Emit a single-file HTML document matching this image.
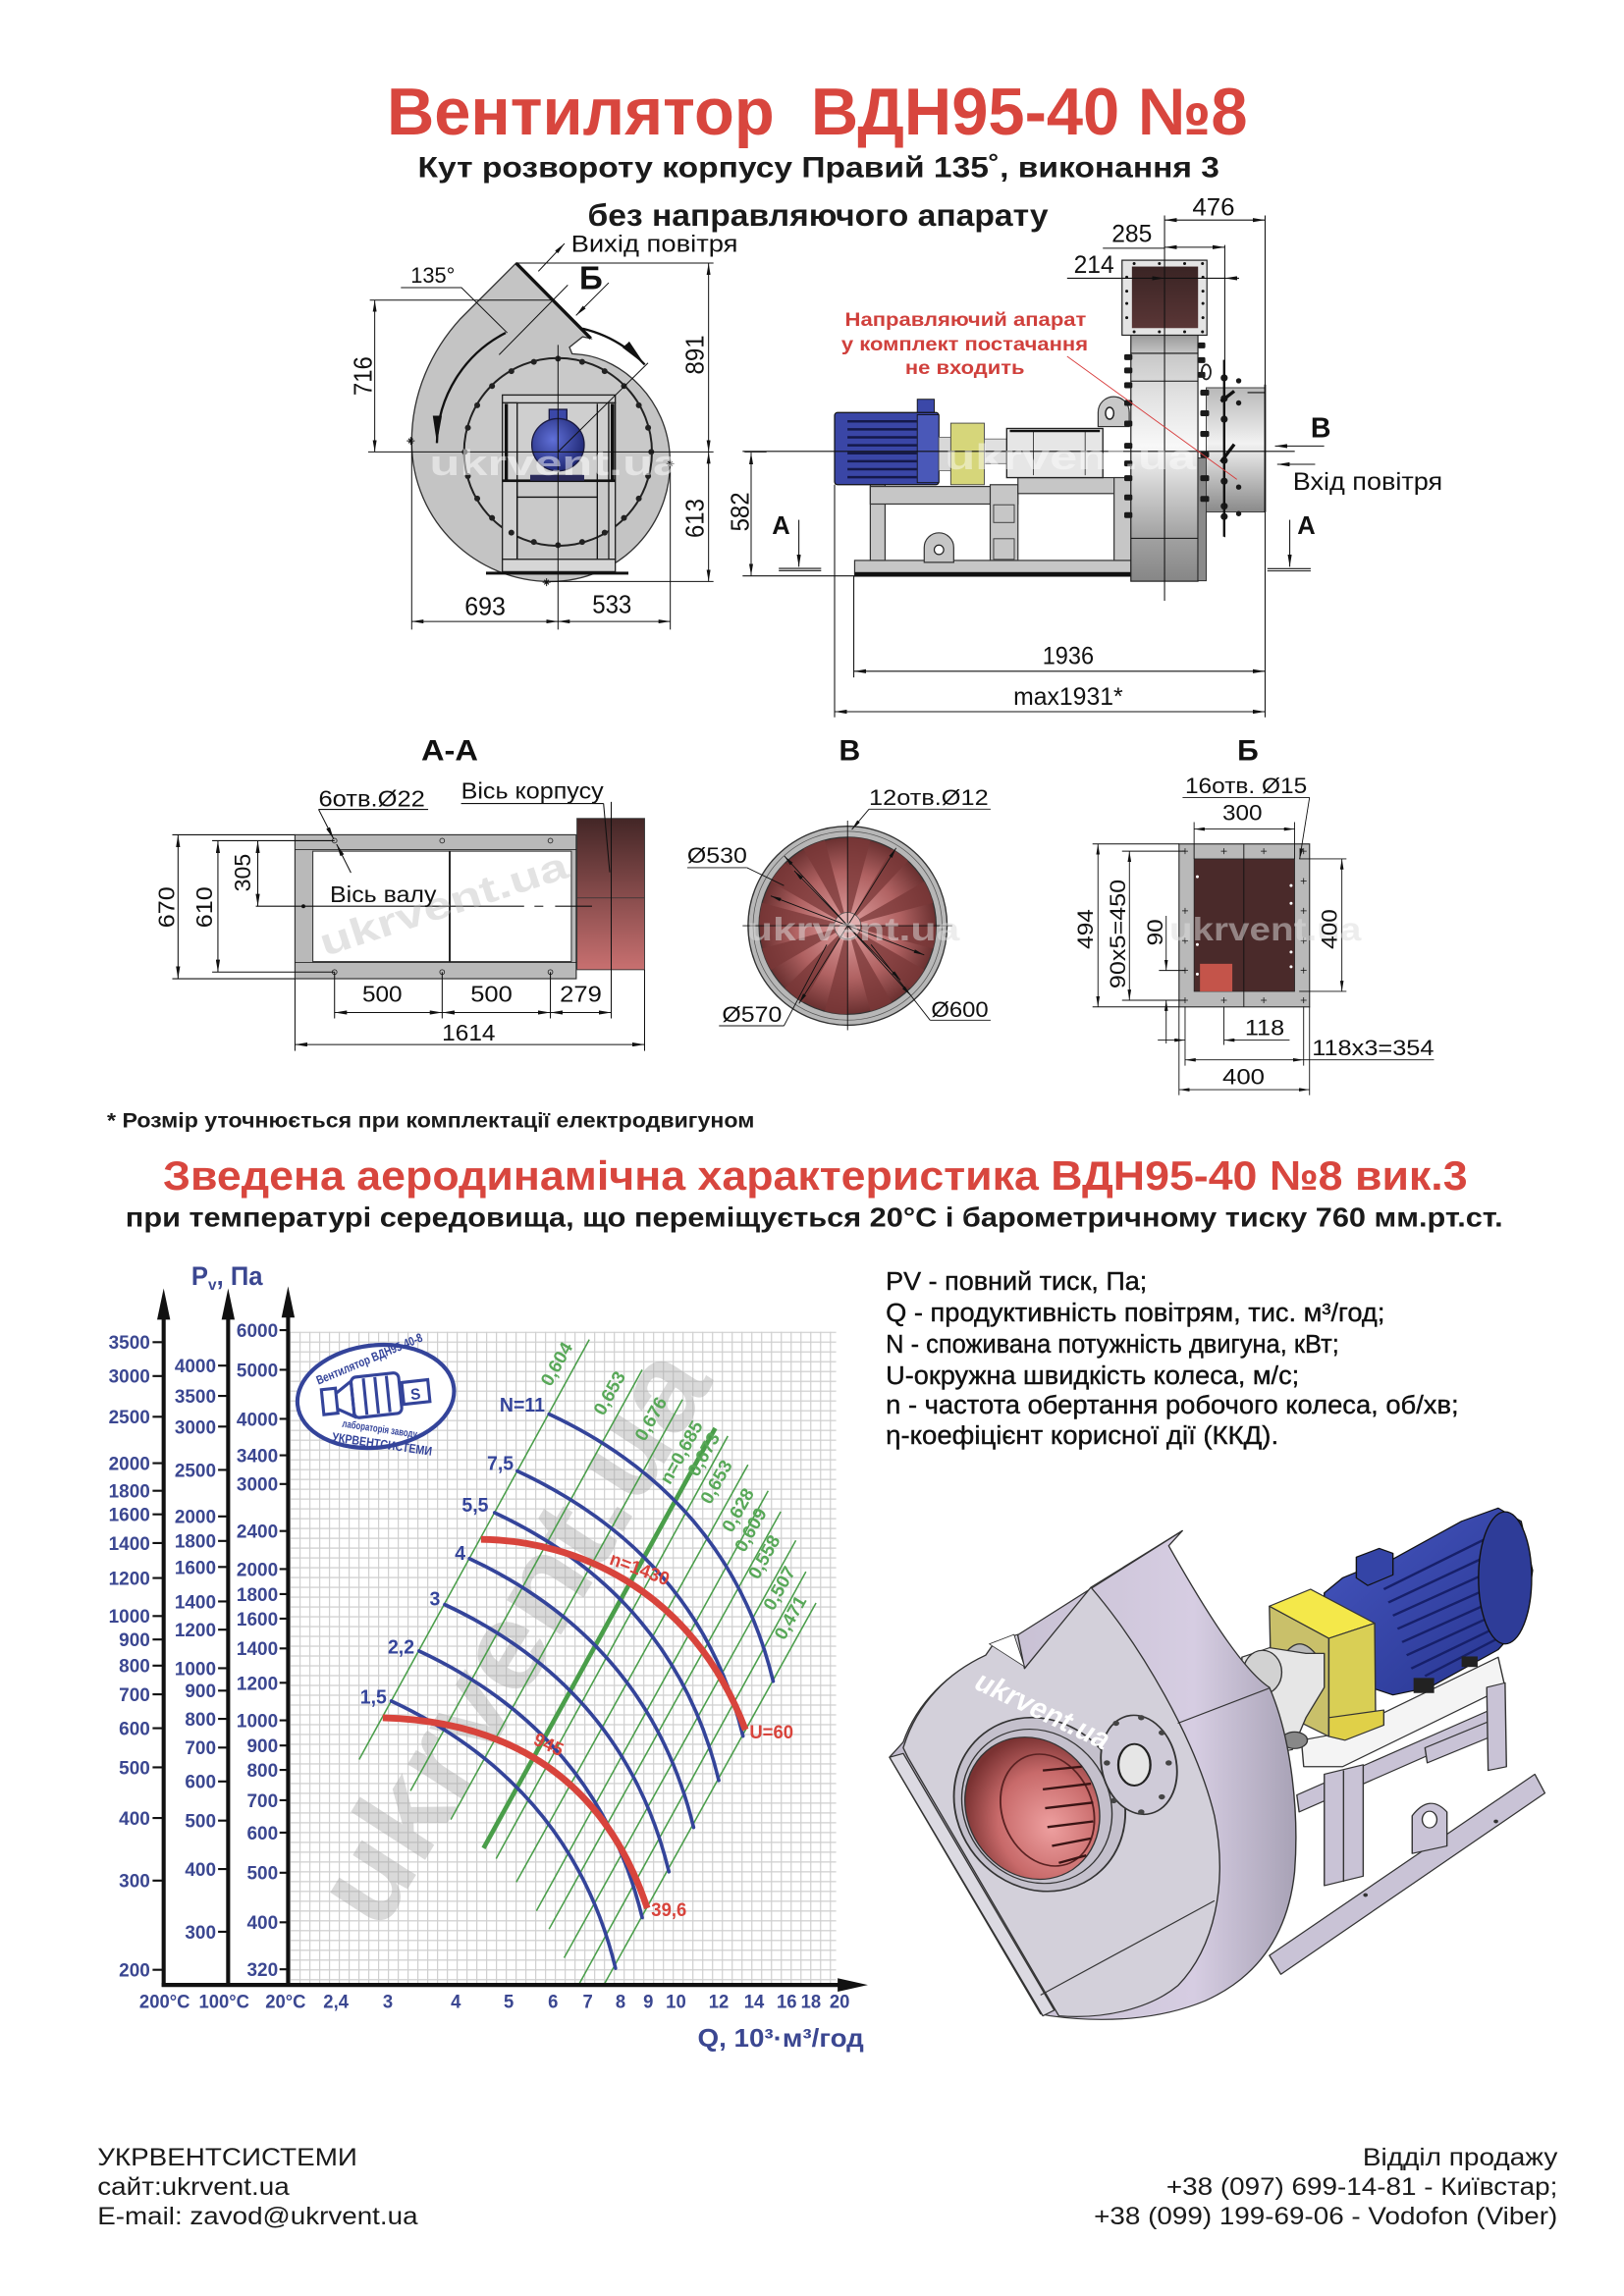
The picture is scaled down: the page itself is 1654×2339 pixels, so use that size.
<!DOCTYPE html>
<html><head><meta charset="utf-8"><title>Вентилятор ВДН95-40 №8</title>
<style>
html,body{margin:0;padding:0;background:#fff;width:1654px;height:2339px;overflow:hidden}
svg{display:block}
text{font-family:"Liberation Sans","DejaVu Sans",sans-serif}
</style></head><body>
<svg xmlns="http://www.w3.org/2000/svg" width="1654" height="2339" viewBox="0 0 1100 1555.6" preserveAspectRatio="none">
<defs>
<marker id="ar" viewBox="0 0 12 4" refX="12" refY="2" markerWidth="12" markerHeight="4" orient="auto-start-reverse" markerUnits="strokeWidth"><path d="M0,0L12,2L0,4Z" fill="#111"/></marker>
<linearGradient id="gOut" x1="0" y1="0" x2="0" y2="1"><stop offset="0" stop-color="#3a2424"/><stop offset="1" stop-color="#5a3636"/></linearGradient>
<linearGradient id="gBody" x1="0" y1="0" x2="0" y2="1"><stop offset="0" stop-color="#9a9a9a"/><stop offset="0.08" stop-color="#c8c8c8"/><stop offset="0.25" stop-color="#e2e2e2"/><stop offset="0.45" stop-color="#f8f8f8"/><stop offset="0.62" stop-color="#cfcfcf"/><stop offset="0.82" stop-color="#a2a2a2"/><stop offset="1" stop-color="#868686"/></linearGradient>
<linearGradient id="gPipe" x1="0" y1="0" x2="0" y2="1"><stop offset="0" stop-color="#b8b8b8"/><stop offset="0.45" stop-color="#f2f2f2"/><stop offset="1" stop-color="#8a8a8a"/></linearGradient>
<linearGradient id="gRed" x1="0" y1="0" x2="0" y2="1"><stop offset="0" stop-color="#432626"/><stop offset="1" stop-color="#c87070"/></linearGradient>
<radialGradient id="gMot" cx="0.4" cy="0.4" r="0.65"><stop offset="0" stop-color="#6070d8"/><stop offset="1" stop-color="#1e2672"/></radialGradient>
<radialGradient id="gInB" cx="0.5" cy="0.5" r="0.5"><stop offset="0" stop-color="#e0a0a0"/><stop offset="0.6" stop-color="#b06262"/><stop offset="1" stop-color="#6a3030"/></radialGradient>
<radialGradient id="gInlet" cx="0.6" cy="0.65" r="0.65"><stop offset="0" stop-color="#eea0a0"/><stop offset="0.6" stop-color="#c86a6a"/><stop offset="1" stop-color="#7a3232"/></radialGradient>
<linearGradient id="gBand" x1="0" y1="0" x2="1" y2="0"><stop offset="0" stop-color="#bfb9ca"/><stop offset="0.75" stop-color="#d6cde2"/><stop offset="1" stop-color="#a8a2b6"/></linearGradient>
<linearGradient id="gMotor" x1="0" y1="0" x2="1" y2="1"><stop offset="0" stop-color="#4656c0"/><stop offset="1" stop-color="#26348e"/></linearGradient>
<pattern id="grid" patternUnits="userSpaceOnUse" x="380" y="145" width="19.5" height="18.8"><path d="M1,0V18.8M0,1H19.5" stroke="#cfcfcf" stroke-width="2.6" fill="none"/></pattern>
</defs>
<rect width="1100" height="1555.6" fill="#fff"/>

<!-- HEADER -->
<text x="262" y="91" font-size="45" font-weight="bold" fill="#d8463e" textLength="583" lengthAdjust="spacingAndGlyphs" style="white-space:pre">Вентилятор  ВДН95-40 №8</text>
<text x="283" y="120" font-size="20" font-weight="bold" fill="#1a1a1a" textLength="543" lengthAdjust="spacingAndGlyphs">Кут розвороту корпусу Правий 135˚, виконання 3</text>
<text x="398" y="153" font-size="21" font-weight="bold" fill="#1a1a1a" textLength="312" lengthAdjust="spacingAndGlyphs">без направляючого апарату</text>

<!-- FRONT VIEW -->
<g transform="translate(239.4,155) scale(0.2217)" fill="none" stroke="#111">
<path d="M497,105 L725,335 L700,330 L660,362 L668,382 L700,385 C820,400 960,520 967,700 C975,900 820,1078 600,1078 C380,1078 178,900 178,650 C178,500 240,370 327,275 Z" fill="#c4c4c4" stroke="#333" stroke-width="4"/>
<circle cx="625" cy="682" r="287" fill="#c9c9c9" stroke="#222" stroke-width="6"/>
<rect x="500" y="532" width="280" height="238" fill="#cfcfcf" stroke="#222" stroke-width="4"/>
<rect x="455" y="508" width="345" height="24" fill="#d0d0d0" stroke="#222" stroke-width="4"/>
<rect x="455" y="532" width="45" height="478" fill="#d0d0d0" stroke="#222" stroke-width="4"/>
<rect x="780" y="532" width="20" height="478" fill="#d0d0d0" stroke="#222" stroke-width="4"/>
<rect x="462" y="535" width="10" height="235" fill="#111" stroke="none"/>
<rect x="786" y="535" width="11" height="235" fill="#111" stroke="none"/>
<line x1="745" y1="535" x2="745" y2="1010" stroke-width="4"/>
<line x1="500" y1="770" x2="500" y2="1010" stroke-width="4"/>
<rect x="455" y="766" width="345" height="8" fill="#111" stroke="none"/>
<line x1="500" y1="820" x2="745" y2="820" stroke-width="4"/>
<rect x="455" y="1010" width="345" height="38" fill="#d6d6d6" stroke="#222" stroke-width="4"/>
<rect x="405" y="1048" width="435" height="9" fill="#111" stroke="none"/>
<rect x="598" y="552" width="54" height="50" fill="#3b48a8" stroke="#1a1a40" stroke-width="4"/>
<circle cx="625" cy="660" r="80" fill="url(#gMot)" stroke="#1a1a40" stroke-width="4"/>
<rect x="540" y="752" width="165" height="18" fill="#2a2a5a" stroke="none"/>
<g fill="#222" stroke="none">
<circle cx="910" cy="682" r="9"/><circle cx="900.3" cy="755.8" r="9"/><circle cx="871.8" cy="824.5" r="9"/><circle cx="826.5" cy="883.5" r="9"/><circle cx="767.5" cy="928.8" r="9"/><circle cx="698.8" cy="957.3" r="9"/><circle cx="625" cy="967" r="9"/><circle cx="551.2" cy="957.3" r="9"/><circle cx="482.5" cy="928.8" r="9"/><circle cx="423.5" cy="883.5" r="9"/><circle cx="378.2" cy="824.5" r="9"/><circle cx="349.7" cy="755.8" r="9"/><circle cx="340" cy="682" r="9"/><circle cx="349.7" cy="608.2" r="9"/><circle cx="378.2" cy="539.5" r="9"/><circle cx="423.5" cy="480.5" r="9"/><circle cx="482.5" cy="435.2" r="9"/><circle cx="551.2" cy="406.7" r="9"/><circle cx="625" cy="397" r="9"/><circle cx="698.8" cy="406.7" r="9"/><circle cx="767.5" cy="435.2" r="9"/><circle cx="826.5" cy="480.5" r="9"/><circle cx="871.8" cy="539.5" r="9"/><circle cx="900.3" cy="608.2" r="9"/>
</g>
<line x1="497" y1="105" x2="725" y2="335" stroke-width="10"/>
<!-- arcs -->
<path d="M465,318 A385,385 0 0 0 255,655" stroke-width="7" marker-end="url(#ar)"/>
<path d="M700,305 A382,382 0 0 1 890,415" stroke-width="7" marker-end="url(#ar)"/>
<!-- axes & dims -->
<g stroke-width="3">
<line x1="625" y1="355" x2="625" y2="1225"/>
<line x1="45" y1="682" x2="1100" y2="682"/>
<line x1="1195" y1="682" x2="1262" y2="682"/>
<line x1="497" y1="105" x2="1100" y2="105"/>
<line x1="50" y1="218" x2="612" y2="218"/>
<line x1="600" y1="1078" x2="1100" y2="1078"/>
<line x1="178" y1="640" x2="178" y2="1225"/>
<line x1="968" y1="705" x2="968" y2="1225"/>
<line x1="445" y1="385" x2="655" y2="172"/>
<line x1="625" y1="682" x2="900" y2="410"/>
<polyline points="145,180 330,180 470,318"/>
<line x1="65" y1="218" x2="65" y2="682" marker-start="url(#ar)" marker-end="url(#ar)"/>
<line x1="1085" y1="105" x2="1085" y2="682" marker-start="url(#ar)" marker-end="url(#ar)"/>
<line x1="1085" y1="682" x2="1085" y2="1078" marker-start="url(#ar)" marker-end="url(#ar)"/>
<line x1="1215" y1="684" x2="1215" y2="1060" marker-start="url(#ar)" marker-end="url(#ar)"/>
<line x1="178" y1="1200" x2="625" y2="1200" marker-start="url(#ar)" marker-end="url(#ar)"/>
<line x1="625" y1="1200" x2="968" y2="1200" marker-start="url(#ar)" marker-end="url(#ar)"/>
<line x1="565" y1="130" x2="645" y2="45" marker-end="url(#ar)"/>
<line x1="780" y1="165" x2="680" y2="265" marker-end="url(#ar)"/>
</g>
<g stroke-width="3"><path d="M163,648h24M175,636v24M168,641l14,14M182,641l-14,14"/><path d="M956,718h24M968,706v24M961,711l14,14M975,711l-14,14"/><path d="M578,1080h24M590,1068v24M583,1073l14,14M597,1073l-14,14"/></g>
</g>
<text x="291" y="322" font-size="24" font-weight="bold" fill="#fff" opacity="0.5" textLength="170" lengthAdjust="spacingAndGlyphs">ukrvent.ua</text>
<text x="386.8" y="170.5" font-size="16" fill="#111" textLength="113" lengthAdjust="spacingAndGlyphs">Вихід повітря</text>
<text x="278.2" y="191.6" font-size="15" fill="#111" textLength="30" lengthAdjust="spacingAndGlyphs">135°</text>
<text x="392.4" y="196" font-size="22" font-weight="bold" fill="#111">Б</text>
<g font-size="17" fill="#111" text-anchor="middle">
<text transform="translate(251.6,254.8) rotate(-90)" textLength="26.6" lengthAdjust="spacingAndGlyphs">716</text>
<text transform="translate(476.6,240.4) rotate(-90)" textLength="26.6" lengthAdjust="spacingAndGlyphs">891</text>
<text transform="translate(476.6,351.2) rotate(-90)" textLength="26.6" lengthAdjust="spacingAndGlyphs">613</text>
<text transform="translate(507.2,346.8) rotate(-90)" textLength="26.6" lengthAdjust="spacingAndGlyphs">582</text>
<text x="328.6" y="416.6" textLength="27.7" lengthAdjust="spacingAndGlyphs">693</text>
<text x="414.5" y="415.5" textLength="26.6" lengthAdjust="spacingAndGlyphs">533</text>
</g>

<!-- SIDE VIEW -->
<g stroke="#111" fill="none">
<!-- frame -->
<rect x="578.9" y="379.7" width="187.2" height="10.7" fill="#c6c6c6" stroke="#333" stroke-width="0.8"/>
<rect x="578.9" y="387.6" width="187.2" height="2.8" fill="#111" stroke="none"/>
<rect x="589.5" y="328.4" width="10" height="51.3" fill="#c6c6c6" stroke="#333" stroke-width="0.8"/>
<rect x="589.5" y="329.6" width="100" height="11.9" fill="#c6c6c6" stroke="#333" stroke-width="0.8"/>
<rect x="670.7" y="328.4" width="18.8" height="51.3" fill="#c6c6c6" stroke="#333" stroke-width="0.8"/>
<rect x="673" y="342" width="14" height="12" fill="#c6c6c6" stroke="#333" stroke-width="0.6"/>
<rect x="673" y="365" width="14" height="14" fill="#c6c6c6" stroke="#333" stroke-width="0.6"/>
<rect x="689.5" y="323.6" width="71" height="10.8" fill="#c6c6c6" stroke="#333" stroke-width="0.8"/>
<rect x="754.6" y="323.6" width="11.5" height="56.1" fill="#c6c6c6" stroke="#333" stroke-width="0.8"/>
<path d="M626,381 V371 A10,10 0 0 1 646,371 V381 Z" fill="#c6c6c6" stroke="#333" stroke-width="0.8"/>
<circle cx="636" cy="372.5" r="3.2" fill="#fff" stroke="#222" stroke-width="0.8"/>
<!-- motor -->
<rect x="621.3" y="270.5" width="11.5" height="10" fill="#3b48a8" stroke="#111" stroke-width="0.6"/>
<rect x="565.3" y="279.5" width="70.6" height="48.9" rx="2" fill="#3a46a6" stroke="#111" stroke-width="0.8"/>
<g stroke="#15194a" stroke-width="1.7"><line x1="574" y1="285.5" x2="621" y2="285.5"/><line x1="574" y1="290.9" x2="621" y2="290.9"/><line x1="574" y1="296.3" x2="621" y2="296.3"/><line x1="574" y1="301.7" x2="621" y2="301.7"/><line x1="574" y1="307.1" x2="621" y2="307.1"/><line x1="574" y1="312.5" x2="621" y2="312.5"/><line x1="574" y1="317.9" x2="621" y2="317.9"/><line x1="574" y1="323.3" x2="621" y2="323.3"/></g>
<rect x="621.3" y="281" width="14.6" height="46" fill="#4a58b8" stroke="#111" stroke-width="0.6"/>
<rect x="635.9" y="296.2" width="9.6" height="22.7" fill="#d8d8d8" stroke="#555" stroke-width="0.5"/>
<rect x="644" y="286.7" width="22.7" height="41.7" fill="#d6d67a" stroke="#444" stroke-width="0.6"/>
<rect x="666.7" y="297.4" width="15.2" height="16.7" fill="#e0e0e0" stroke="#555" stroke-width="0.5"/>
<rect x="681.9" y="290.3" width="65.1" height="33.3" fill="#e6e6e6" stroke="#222" stroke-width="0.9"/>
<line x1="684" y1="292" x2="745" y2="292" stroke-width="1.6"/>
<line x1="700" y1="292" x2="700" y2="322" stroke-width="0.5"/>
<line x1="735" y1="292" x2="735" y2="322" stroke-width="0.5"/>
<path d="M743.8,289 V279.3 A10.5,10.5 0 0 1 764.9,279.3 V289 Z" fill="#c8c8c8" stroke="#333" stroke-width="0.8"/>
<ellipse cx="751.6" cy="280" rx="2.8" ry="4" fill="#fff" stroke="#222" stroke-width="1"/>
<!-- casing -->
<rect x="766" y="227" width="45.4" height="166.8" fill="url(#gBody)" stroke="#222" stroke-width="0.8"/>
<line x1="766" y1="239.4" x2="811.4" y2="239.4" stroke-width="0.7"/>
<line x1="766" y1="258.2" x2="811.4" y2="258.2" stroke-width="0.7"/>
<line x1="766" y1="364.7" x2="811.4" y2="364.7" stroke-width="0.7"/>
<rect x="811.4" y="310.3" width="5.6" height="83.2" fill="#8a8a8a" stroke="#222" stroke-width="0.6"/>
<rect x="817" y="262.7" width="39.9" height="84.2" fill="url(#gPipe)" stroke="#333" stroke-width="0.6"/>
<line x1="856.9" y1="260.5" x2="856.9" y2="347" stroke-width="1.2"/>
<line x1="845" y1="266" x2="856.9" y2="266" stroke-width="0.8"/>
<line x1="829.2" y1="243.8" x2="829.2" y2="363.6" stroke-width="1.6"/>
<g fill="#1a1a1a" stroke="none">
<rect x="761.5" y="240" width="5.5" height="4" rx="1"/><rect x="761.5" y="249" width="5.5" height="4" rx="1"/><rect x="761.5" y="259" width="5.5" height="4" rx="1"/><rect x="761.5" y="271" width="5.5" height="4" rx="1"/><rect x="761.5" y="285" width="5.5" height="4" rx="1"/><rect x="761.5" y="300" width="5.5" height="4" rx="1"/><rect x="761.5" y="312" width="5.5" height="4" rx="1"/><rect x="761.5" y="322" width="5.5" height="4" rx="1"/><rect x="761.5" y="335" width="5.5" height="4" rx="1"/><rect x="761.5" y="347" width="5.5" height="4" rx="1"/>
<rect x="811.4" y="232" width="5" height="4" rx="1"/><rect x="811.4" y="242" width="5" height="4" rx="1"/><rect x="811.4" y="252" width="5" height="4" rx="1"/><rect x="813" y="264" width="6" height="4" rx="1"/><rect x="813" y="278" width="6" height="4" rx="1"/><rect x="813" y="292" width="6" height="4" rx="1"/><rect x="813" y="306" width="6" height="4" rx="1"/><rect x="813" y="322" width="6" height="4" rx="1"/><rect x="813" y="336" width="6" height="4" rx="1"/>
<circle cx="829.2" cy="256" r="2.4"/><circle cx="829.2" cy="270" r="2.4"/><circle cx="829.2" cy="284" r="2.4"/><circle cx="829.2" cy="312" r="2.4"/><circle cx="829.2" cy="326" r="2.4"/><circle cx="829.2" cy="343" r="2.4"/><circle cx="829.2" cy="350" r="2.4"/>
<circle cx="839" cy="258" r="1.8"/><circle cx="839" cy="273" r="1.8"/><circle cx="839" cy="330" r="1.8"/><circle cx="839" cy="348" r="1.8"/>
</g>
<line x1="827" y1="313" x2="836" y2="301" stroke-width="2.2"/>
<line x1="827" y1="272" x2="836" y2="265" stroke-width="2.2"/>
<ellipse cx="817" cy="252" rx="3" ry="5" fill="none" stroke="#222" stroke-width="1.2"/>
<!-- outlet flange -->
<rect x="760" y="176.3" width="57.5" height="50.8" fill="#e4e4e4" stroke="#222" stroke-width="0.8"/>
<rect x="766.7" y="180.6" width="44.8" height="41.7" fill="url(#gOut)" stroke="none"/>
<g fill="#111" stroke="none"><circle cx="768.2" cy="178.6" r="1"/><circle cx="785.3" cy="178.6" r="1"/><circle cx="802.4" cy="178.6" r="1"/><circle cx="814.5" cy="178.6" r="1"/><circle cx="768.2" cy="224.8" r="1"/><circle cx="785.3" cy="224.8" r="1"/><circle cx="802.4" cy="224.8" r="1"/><circle cx="814.5" cy="224.8" r="1"/><circle cx="763.2" cy="187.8" r="1"/><circle cx="763.2" cy="197.3" r="1"/><circle cx="763.2" cy="205.6" r="1"/><circle cx="763.2" cy="215.2" r="1"/><circle cx="814.8" cy="187.8" r="1"/><circle cx="814.8" cy="197.3" r="1"/><circle cx="814.8" cy="205.6" r="1"/><circle cx="814.8" cy="215.2" r="1"/></g>
<!-- axes and dims -->
<g stroke-width="0.7">
<line x1="788.8" y1="146" x2="788.8" y2="407"/>
<line x1="503" y1="305.8" x2="877" y2="305.8"/>
<line x1="503" y1="390.2" x2="579" y2="390.2"/>
<line x1="829.6" y1="166" x2="829.6" y2="364"/>
<line x1="856.9" y1="146" x2="856.9" y2="262"/>
<line x1="856.9" y1="347" x2="856.9" y2="486"/>
<line x1="578.3" y1="390.4" x2="578.3" y2="459"/>
<line x1="565.3" y1="328.4" x2="565.3" y2="486"/>
<line x1="788.8" y1="149.1" x2="856.9" y2="149.1" marker-start="url(#ar)" marker-end="url(#ar)"/>
<line x1="788.8" y1="167.5" x2="829.6" y2="167.5" marker-start="url(#ar)" marker-end="url(#ar)"/>
<line x1="747" y1="168.2" x2="788.8" y2="168.2"/>
<line x1="722.8" y1="188.5" x2="788.8" y2="188.5" marker-end="url(#ar)"/>
<line x1="839.3" y1="188.5" x2="829.6" y2="188.5" marker-end="url(#ar)"/>
<line x1="788.8" y1="188.5" x2="829.6" y2="188.5"/>
<line x1="578.3" y1="454.8" x2="856.9" y2="454.8" marker-start="url(#ar)" marker-end="url(#ar)"/>
<line x1="565.3" y1="482.2" x2="856.9" y2="482.2" marker-start="url(#ar)" marker-end="url(#ar)"/>
<line x1="896.9" y1="302.2" x2="863.6" y2="302.2" marker-end="url(#ar)"/>
<line x1="890.8" y1="314.6" x2="865.1" y2="314.6" marker-end="url(#ar)"/>
<line x1="541.1" y1="352.2" x2="541.1" y2="384" marker-end="url(#ar)"/>
<line x1="527.5" y1="385.1" x2="556.2" y2="385.1"/><line x1="527.5" y1="386.6" x2="556.2" y2="386.6"/>
<line x1="873.6" y1="352.2" x2="873.6" y2="384" marker-end="url(#ar)"/>
<line x1="858.4" y1="385.3" x2="887.8" y2="385.3"/><line x1="858.4" y1="386.8" x2="887.8" y2="386.8"/>
</g>
<line x1="722.8" y1="241.4" x2="837.8" y2="324.8" stroke="#d83a3a" stroke-width="0.6"/>
</g>
<text x="640" y="318" font-size="24" font-weight="bold" fill="#fff" opacity="0.45" textLength="170" lengthAdjust="spacingAndGlyphs">ukrvent.ua</text>
<g font-size="16.5" fill="#111">
<text x="807.6" y="146" textLength="28.7" lengthAdjust="spacingAndGlyphs">476</text>
<text x="753" y="163.9" textLength="27.3" lengthAdjust="spacingAndGlyphs">285</text>
<text x="727.3" y="184.9" textLength="27.3" lengthAdjust="spacingAndGlyphs">214</text>
<text x="706.1" y="450" textLength="34.8" lengthAdjust="spacingAndGlyphs">1936</text>
<text x="686.4" y="477.4" textLength="74.2" lengthAdjust="spacingAndGlyphs">max1931*</text>
<text x="875.7" y="332" textLength="101.4" lengthAdjust="spacingAndGlyphs">Вхід повітря</text>
</g>
<g font-weight="bold" fill="#111">
<text x="887.8" y="296.2" font-size="19">В</text>
<text x="522.9" y="361.8" font-size="17">А</text>
<text x="878.7" y="361.8" font-size="17">А</text>
</g>
<g font-size="13" font-weight="bold" fill="#d0403c">
<text x="572.3" y="220.7" textLength="163.5" lengthAdjust="spacingAndGlyphs">Направляючий апарат</text>
<text x="569.9" y="237.3" textLength="167" lengthAdjust="spacingAndGlyphs">у комплект постачання</text>
<text x="613.1" y="253.3" textLength="80.9" lengthAdjust="spacingAndGlyphs">не входить</text>
</g>

<!-- SECTION A-A -->
<g stroke="#111" fill="none">
<rect x="390.8" y="554.5" width="45.8" height="102.5" fill="url(#gRed)" stroke="#333" stroke-width="0.6"/>
<line x1="390.8" y1="608.4" x2="436.6" y2="608.4" stroke="#333" stroke-width="0.5"/>
<rect x="199.8" y="565.6" width="190.5" height="97.5" fill="#b9b9b9" stroke="#333" stroke-width="0.8"/>
<rect x="211.9" y="576.7" width="175.1" height="74.8" fill="#fff" stroke="#333" stroke-width="0.7"/>
<line x1="199.8" y1="575.7" x2="390.3" y2="575.7" stroke-width="0.5"/>
<line x1="199.8" y1="652.1" x2="390.3" y2="652.1" stroke-width="0.5"/>
<line x1="304.6" y1="576.7" x2="304.6" y2="651.5" stroke-width="1.2"/>
<g stroke-width="0.5"><circle cx="226.6" cy="569.6" r="1.6"/><circle cx="299.5" cy="569.6" r="1.6"/><circle cx="372.8" cy="569.6" r="1.6"/><circle cx="226.6" cy="658.6" r="1.6"/><circle cx="299.5" cy="658.6" r="1.6"/><circle cx="372.8" cy="658.6" r="1.6"/></g>
<circle cx="205.5" cy="614" r="1.3" fill="#111" stroke="none"/>
<g stroke-width="0.7">
<line x1="173.3" y1="614" x2="355" y2="614"/><line x1="362" y1="614" x2="368" y2="614"/><line x1="376" y1="614" x2="401" y2="614"/>
<line x1="414" y1="543.3" x2="414" y2="690"/>
<line x1="312.3" y1="544.4" x2="408.8" y2="544.4"/><line x1="408.8" y1="544.4" x2="413" y2="591"/>
<line x1="215.8" y1="548.4" x2="290" y2="548.4"/>
<line x1="215.8" y1="548.4" x2="226" y2="568.5" marker-end="url(#ar)"/>
<line x1="237.7" y1="591.3" x2="228" y2="572" marker-end="url(#ar)"/>
<line x1="116.7" y1="565.6" x2="199.8" y2="565.6"/><line x1="116.7" y1="663.1" x2="199.8" y2="663.1"/>
<line x1="143.7" y1="569.6" x2="226.6" y2="569.6"/><line x1="143.7" y1="658.6" x2="226.6" y2="658.6"/>
<line x1="120.6" y1="565.6" x2="120.6" y2="663.1" marker-start="url(#ar)" marker-end="url(#ar)"/>
<line x1="147.6" y1="569.6" x2="147.6" y2="658.6" marker-start="url(#ar)" marker-end="url(#ar)"/>
<line x1="174.6" y1="569.6" x2="174.6" y2="614" marker-start="url(#ar)" marker-end="url(#ar)"/>
<line x1="199.8" y1="663.1" x2="199.8" y2="712"/><line x1="436.6" y1="657" x2="436.6" y2="712"/>
<line x1="226.6" y1="658.6" x2="226.6" y2="690"/><line x1="299.5" y1="658.6" x2="299.5" y2="690"/><line x1="372.8" y1="658.6" x2="372.8" y2="690"/>
<line x1="226.6" y1="686" x2="299.5" y2="686" marker-start="url(#ar)" marker-end="url(#ar)"/>
<line x1="299.5" y1="686" x2="372.8" y2="686" marker-start="url(#ar)" marker-end="url(#ar)"/>
<line x1="372.8" y1="686" x2="414" y2="686" marker-start="url(#ar)" marker-end="url(#ar)"/>
<line x1="199.8" y1="707.7" x2="436.6" y2="707.7" marker-start="url(#ar)" marker-end="url(#ar)"/>
</g>
</g>
<text transform="translate(220,648) rotate(-18)" font-size="26" font-weight="bold" fill="#bbb" opacity="0.4" textLength="175" lengthAdjust="spacingAndGlyphs">ukrvent.ua</text>
<text x="285.3" y="515" font-size="20" font-weight="bold" fill="#111" textLength="38.6" lengthAdjust="spacingAndGlyphs">А-А</text>
<g font-size="15.5" fill="#111">
<text x="312.3" y="541.1" textLength="96.5" lengthAdjust="spacingAndGlyphs">Вісь корпусу</text>
<text x="215.8" y="546.2" textLength="72.1" lengthAdjust="spacingAndGlyphs">6отв.Ø22</text>
<text x="223.5" y="611.3" textLength="72.1" lengthAdjust="spacingAndGlyphs">Вісь валу</text>
<text x="245.4" y="678.7" textLength="27" lengthAdjust="spacingAndGlyphs">500</text>
<text x="318.7" y="678.7" textLength="28.3" lengthAdjust="spacingAndGlyphs">500</text>
<text x="379.2" y="678.7" textLength="28.4" lengthAdjust="spacingAndGlyphs">279</text>
<text x="299.4" y="705" textLength="36.1" lengthAdjust="spacingAndGlyphs">1614</text>
<text transform="translate(118,614.7) rotate(-90)" text-anchor="middle" textLength="28" lengthAdjust="spacingAndGlyphs">670</text>
<text transform="translate(143.7,614.7) rotate(-90)" text-anchor="middle" textLength="28" lengthAdjust="spacingAndGlyphs">610</text>
<text transform="translate(169.5,591.3) rotate(-90)" text-anchor="middle" textLength="25.6" lengthAdjust="spacingAndGlyphs">305</text>
</g>

<!-- VIEW В -->
<g stroke="#111" fill="none">
<circle cx="574.1" cy="627.2" r="67.4" fill="#b7b7b7" stroke="#333" stroke-width="0.9"/>
<circle cx="574.1" cy="627.2" r="64" stroke="#555" stroke-width="0.5"/>
<circle cx="574.1" cy="627.2" r="60" fill="url(#gInB)" stroke="#333" stroke-width="0.8"/>
<g fill="#7a3838" stroke="none" opacity="0.75">
<path d="M574.1,627.2 L574.1,567.2 A60,60 0 0 1 589.6,569.2 Z"/>
<path d="M574.1,627.2 L604.1,575.2 A60,60 0 0 1 615.1,583.2 Z"/>
<path d="M574.1,627.2 L626.1,597.2 A60,60 0 0 1 632.1,611.7 Z"/>
<path d="M574.1,627.2 L634.1,627.2 A60,60 0 0 1 632.1,642.7 Z"/>
<path d="M574.1,627.2 L626.1,657.2 A60,60 0 0 1 616.5,669.6 Z"/>
<path d="M574.1,627.2 L604.1,679.2 A60,60 0 0 1 589.6,685.2 Z"/>
<path d="M574.1,627.2 L574.1,687.2 A60,60 0 0 1 558.6,685.2 Z"/>
<path d="M574.1,627.2 L544.1,679.2 A60,60 0 0 1 531.7,669.6 Z"/>
<path d="M574.1,627.2 L522.1,657.2 A60,60 0 0 1 516.1,642.7 Z"/>
<path d="M574.1,627.2 L514.1,627.2 A60,60 0 0 1 516.1,611.7 Z"/>
<path d="M574.1,627.2 L522.1,597.2 A60,60 0 0 1 531.7,584.8 Z"/>
<path d="M574.1,627.2 L544.1,575.2 A60,60 0 0 1 558.6,569.2 Z"/>
</g>
<circle cx="574.1" cy="627.2" r="9" fill="#e2b0b0" stroke="#555" stroke-width="0.5"/>
<g stroke-width="0.6">
<line x1="574.1" y1="556" x2="574.1" y2="698"/>
<line x1="503" y1="627.2" x2="645" y2="627.2"/>
<line x1="588.6" y1="548.2" x2="671" y2="548.2"/>
<line x1="588.6" y1="548.2" x2="577" y2="562" marker-end="url(#ar)"/>
<line x1="465.5" y1="587.9" x2="506" y2="587.9"/><line x1="506" y1="587.9" x2="531" y2="600"/>
<line x1="487" y1="695" x2="531" y2="695"/><line x1="531" y1="695" x2="560" y2="640"/>
<line x1="630" y1="691.2" x2="671" y2="691.2"/><line x1="630" y1="691.2" x2="590" y2="640"/>
<line x1="531.3" y1="580" x2="616.9" y2="674.4" marker-start="url(#ar)" marker-end="url(#ar)"/>
<line x1="607" y1="574.5" x2="541.2" y2="679.9" marker-start="url(#ar)" marker-end="url(#ar)"/>
<line x1="538" y1="590" x2="610" y2="664" marker-start="url(#ar)" marker-end="url(#ar)"/>
<line x1="522" y1="607" x2="626" y2="647" marker-start="url(#ar)" marker-end="url(#ar)"/>
</g>
</g>
<text x="506" y="637" font-size="22" font-weight="bold" fill="#ddd" opacity="0.5" textLength="144" lengthAdjust="spacingAndGlyphs">ukrvent.ua</text>
<text x="568.3" y="515" font-size="20" font-weight="bold" fill="#111">В</text>
<g font-size="15" fill="#111">
<text x="588.6" y="545.3" textLength="80.9" lengthAdjust="spacingAndGlyphs">12отв.Ø12</text>
<text x="465.5" y="584.6" textLength="40.5" lengthAdjust="spacingAndGlyphs">Ø530</text>
<text x="489.1" y="692.3" textLength="40.5" lengthAdjust="spacingAndGlyphs">Ø570</text>
<text x="630.7" y="689" textLength="38.8" lengthAdjust="spacingAndGlyphs">Ø600</text>
</g>

<!-- VIEW Б -->
<g stroke="#111" fill="none">
<rect x="798.6" y="571.8" width="88.4" height="110.4" fill="#b9b9b9" stroke="#333" stroke-width="0.8"/>
<rect x="808.8" y="581.9" width="68.1" height="89.8" fill="#4a2a2a" stroke="#222" stroke-width="0.5"/>
<rect x="812.8" y="653" width="21.9" height="18.7" fill="#c4544a" stroke="none"/>
<line x1="842.5" y1="571.8" x2="842.5" y2="682.2" stroke-width="0.6"/>
<g fill="#fff" stroke="none"><circle cx="811" cy="594" r="1"/><circle cx="811" cy="640" r="1"/><circle cx="811" cy="660" r="1"/><circle cx="874.5" cy="600" r="1"/><circle cx="874.5" cy="612" r="1"/><circle cx="874.5" cy="645" r="1"/><circle cx="874.5" cy="655" r="1"/></g>
<g stroke-width="0.5"><path d="M800.7,576.7h4M802.7,574.7v4M827,576.7h4M829,574.7v4M854,576.7h4M856,574.7v4M881,576.7h4M883,574.7v4M800.7,677.7h4M802.7,675.7v4M827,677.7h4M829,675.7v4M854,677.7h4M856,675.7v4M881,677.7h4M883,675.7v4M800.7,617.1h4M802.7,615.1v4M800.7,637.3h4M802.7,635.3v4M800.7,657.5h4M802.7,655.5v4M881,596.9h4M883,594.9v4M881,617.1h4M883,615.1v4M881,637.3h4M883,635.3v4M881,657.5h4M883,655.5v4"/></g>
<g stroke-width="0.6">
<line x1="801" y1="540.3" x2="887" y2="540.3"/>
<line x1="887" y1="540.3" x2="880.3" y2="582" marker-end="url(#ar)"/>
<line x1="808.8" y1="557" x2="808.8" y2="582"/><line x1="876.9" y1="557" x2="876.9" y2="582"/>
<line x1="808.8" y1="561.7" x2="876.9" y2="561.7" marker-start="url(#ar)" marker-end="url(#ar)"/>
<line x1="740" y1="571.8" x2="798.6" y2="571.8"/><line x1="740" y1="682.2" x2="798.6" y2="682.2"/>
<line x1="743.7" y1="571.8" x2="743.7" y2="682.2" marker-start="url(#ar)" marker-end="url(#ar)"/>
<line x1="760" y1="576.7" x2="802.7" y2="576.7"/><line x1="760" y1="677.7" x2="802.7" y2="677.7"/>
<line x1="765" y1="576.7" x2="765" y2="677.7" marker-start="url(#ar)" marker-end="url(#ar)"/>
<line x1="785" y1="657.5" x2="802.7" y2="657.5"/>
<line x1="789.9" y1="620.5" x2="789.9" y2="657.5" marker-end="url(#ar)"/>
<line x1="789.9" y1="707" x2="789.9" y2="677.7" marker-end="url(#ar)"/>
<line x1="880" y1="581.9" x2="912" y2="581.9"/><line x1="880" y1="671.7" x2="912" y2="671.7"/>
<line x1="908.9" y1="581.9" x2="908.9" y2="671.7" marker-start="url(#ar)" marker-end="url(#ar)"/>
<line x1="802.7" y1="682" x2="802.7" y2="722"/><line x1="829" y1="682" x2="829" y2="708"/><line x1="883" y1="682" x2="883" y2="722"/>
<line x1="798.6" y1="682" x2="798.6" y2="742"/><line x1="887" y1="682" x2="887" y2="742"/>
<line x1="784.2" y1="704.7" x2="802.7" y2="704.7" marker-end="url(#ar)"/>
<line x1="873.5" y1="704.7" x2="829" y2="704.7" marker-end="url(#ar)"/>
<line x1="802.7" y1="718.1" x2="883" y2="718.1" marker-start="url(#ar)" marker-end="url(#ar)"/>
<line x1="883" y1="718.1" x2="971.3" y2="718.1"/>
<line x1="798.6" y1="738.3" x2="887" y2="738.3" marker-start="url(#ar)" marker-end="url(#ar)"/>
</g>
</g>
<text x="792" y="637" font-size="22" font-weight="bold" fill="#ddd" opacity="0.5" textLength="130" lengthAdjust="spacingAndGlyphs">ukrvent.ua</text>
<text x="838.1" y="515" font-size="20" font-weight="bold" fill="#111">Б</text>
<g font-size="15" fill="#111">
<text x="802.7" y="537.4" textLength="82.6" lengthAdjust="spacingAndGlyphs">16отв. Ø15</text>
<text x="828" y="555.8" textLength="27" lengthAdjust="spacingAndGlyphs">300</text>
<text x="843.2" y="701.3" textLength="26.8" lengthAdjust="spacingAndGlyphs">118</text>
<text x="888.7" y="714.8" textLength="82.6" lengthAdjust="spacingAndGlyphs">118х3=354</text>
<text x="828" y="734.5" textLength="28.6" lengthAdjust="spacingAndGlyphs">400</text>
<text transform="translate(740.3,629.5) rotate(-90)" text-anchor="middle" textLength="27" lengthAdjust="spacingAndGlyphs">494</text>
<text transform="translate(762.2,632.8) rotate(-90)" text-anchor="middle" textLength="74" lengthAdjust="spacingAndGlyphs">90х5=450</text>
<text transform="translate(787.5,631.7) rotate(-90)" text-anchor="middle" textLength="18" lengthAdjust="spacingAndGlyphs">90</text>
<text transform="translate(905.5,629.5) rotate(-90)" text-anchor="middle" textLength="27" lengthAdjust="spacingAndGlyphs">400</text>
</g>

<!-- NOTE & HEADINGS -->
<text x="72.5" y="764" font-size="14" font-weight="bold" fill="#1a1a1a" textLength="438.5" lengthAdjust="spacingAndGlyphs">* Розмір уточнюється при комплектації електродвигуном</text>
<text x="110.4" y="806" font-size="28" font-weight="bold" fill="#d8463e" textLength="883.6" lengthAdjust="spacingAndGlyphs">Зведена аеродинамічна характеристика ВДН95-40 №8 вик.3</text>
<text x="85" y="831" font-size="18.5" font-weight="bold" fill="#1a1a1a" textLength="933" lengthAdjust="spacingAndGlyphs">при температурі середовища, що переміщується 20°С і барометричному тиску 760 мм.рт.ст.</text>

<!-- CHART -->
<g transform="translate(66.5,851) scale(0.3412,0.3535)">
<rect x="380" y="145" width="1085" height="1252" fill="#fff"/>
<rect x="380" y="145" width="1085" height="1252" fill="url(#grid)"/>
<text transform="translate(560,1300) rotate(-58)" font-size="240" font-weight="bold" fill="#a8a8a8" opacity="0.42" textLength="1250" lengthAdjust="spacingAndGlyphs">ukrvent.ua</text>
<!-- logo -->
<g transform="rotate(-6 551 269)">
<ellipse cx="551" cy="269" rx="156" ry="98" fill="#fff" stroke="#34449a" stroke-width="8"/>
<g fill="none" stroke="#34449a" stroke-width="6">
<rect x="445" y="245" width="28" height="48"/>
<path d="M473,255 L505,235 L505,303 L473,285"/>
<rect x="505" y="228" width="95" height="78" rx="10"/>
<line x1="530" y1="232" x2="530" y2="302"/><line x1="553" y1="232" x2="553" y2="302"/><line x1="576" y1="232" x2="576" y2="302"/>
<rect x="605" y="248" width="52" height="42"/>
</g>
<text x="620" y="283" font-size="30" font-weight="bold" fill="#34449a">S</text>
<text transform="translate(440,235) rotate(-16)" font-size="24" font-weight="bold" fill="#34449a" textLength="225" lengthAdjust="spacingAndGlyphs">Вентилятор ВДН95-40-8</text>
<text transform="translate(478,320) rotate(14)" font-size="20" font-weight="bold" fill="#34449a" textLength="150" lengthAdjust="spacingAndGlyphs">лабораторія заводу</text>
<text transform="translate(455,345) rotate(14)" font-size="24" font-weight="bold" fill="#34449a" textLength="200" lengthAdjust="spacingAndGlyphs">УКРВЕНТСИСТЕМИ</text>
</g>
<!-- green efficiency lines -->
<g stroke="#4a9e4a" stroke-width="3" fill="none">
<line x1="518" y1="965" x2="975" y2="160"/>
<line x1="620" y1="1025" x2="1080" y2="218"/>
<line x1="700" y1="1080" x2="1160" y2="275"/>
<line x1="765" y1="1135" x2="1225" y2="330" stroke-width="9"/>
<line x1="790" y1="1155" x2="1250" y2="345"/>
<line x1="830" y1="1200" x2="1290" y2="400"/>
<line x1="870" y1="1255" x2="1330" y2="450"/>
<line x1="895" y1="1290" x2="1355" y2="490"/>
<line x1="925" y1="1345" x2="1385" y2="545"/>
<line x1="955" y1="1395" x2="1405" y2="605"/>
<line x1="1005" y1="1395" x2="1425" y2="665"/>
</g>
<g font-size="36" font-weight="bold" fill="#58a858">
<text transform="translate(898,252) rotate(-60)">0,604</text>
<text transform="translate(1003,308) rotate(-60)">0,653</text>
<text transform="translate(1085,357) rotate(-60)">0,676</text>
<text transform="translate(1135,440) rotate(-60)">n=0,685</text>
<text transform="translate(1190,425) rotate(-60)">0,673</text>
<text transform="translate(1215,478) rotate(-60)">0,653</text>
<text transform="translate(1258,532) rotate(-60)">0,628</text>
<text transform="translate(1283,570) rotate(-60)">0,609</text>
<text transform="translate(1310,622) rotate(-60)">0,558</text>
<text transform="translate(1340,682) rotate(-60)">0,507</text>
<text transform="translate(1362,738) rotate(-60)">0,471</text>
</g>
<!-- blue N curves -->
<g stroke="#34449a" stroke-width="7" fill="none" stroke-linecap="round">
<path d="M895,303 Q1252,464 1340,815"/>
<path d="M832,412 Q1194,575 1280,920"/>
<path d="M787,492 Q1144,653 1232,1005"/>
<path d="M737,580 Q1093,740 1182,1095"/>
<path d="M688,668 Q1045,829 1133,1180"/>
<path d="M637,757 Q992,917 1080,1268"/>
<path d="M582,853 Q939,1014 1027,1365"/>
</g>
<!-- red curves -->
<g stroke="#d8443c" stroke-width="13" fill="none">
<path d="M760,543 C950,545 1180,640 1285,908"/>
<path d="M565,885 C760,890 990,960 1090,1250"/>
</g>
<g font-size="38" font-weight="bold" fill="#34449a">
<text x="797" y="298">N=11</text>
<text x="772" y="410">7,5</text>
<text x="722" y="490">5,5</text>
<text x="708" y="582">4</text>
<text x="658" y="670">3</text>
<text x="575" y="762">2,2</text>
<text x="520" y="858">1,5</text>
</g>
<g font-size="36" font-weight="bold" fill="#d8443c">
<text transform="translate(1013,590) rotate(20)">n=1430</text>
<text transform="translate(862,935) rotate(24)">945</text>
<text x="1293" y="925">U=60</text>
<text x="1098" y="1265">39,6</text>
</g>
<!-- axes -->
<g stroke="#111" stroke-width="8">
<line x1="130" y1="1400" x2="130" y2="110"/>
<line x1="258" y1="1400" x2="258" y2="110"/>
<line x1="377" y1="1400" x2="377" y2="110"/>
<line x1="126" y1="1397" x2="1475" y2="1397"/>
</g>
<g fill="#111">
<polygon points="117,122 130,62 143,122"/>
<polygon points="245,122 258,62 271,122"/>
<polygon points="364,118 377,58 390,118"/>
<polygon points="1468,1384 1528,1397 1468,1410"/>
</g>
<g stroke="#111" stroke-width="4">
<path d="M108,165h22M108,230h22M108,308h22M108,397h22M108,450h22M108,495h22M108,550h22M108,617h22M108,690h22M108,735h22M108,785h22M108,840h22M108,905h22M108,980h22M108,1077h22M108,1197h22M108,1368h22"/>
<path d="M238,210h20M238,268h20M238,327h20M238,410h20M238,499h20M238,546h20M238,596h20M238,662h20M238,716h20M238,790h20M238,833h20M238,887h20M238,942h20M238,1007h20M238,1082h20M238,1175h20M238,1295h20"/>
<path d="M360,142h17M360,218h17M360,312h17M360,382h17M360,437h17M360,527h17M360,600h17M360,648h17M360,695h17M360,752h17M360,818h17M360,890h17M360,938h17M360,985h17M360,1043h17M360,1105h17M360,1182h17M360,1277h17M360,1367h17"/>
</g>
<g font-size="37" font-weight="bold" fill="#3b4791" text-anchor="end">
<text x="103" y="178">3500</text><text x="103" y="243">3000</text><text x="103" y="321">2500</text><text x="103" y="410">2000</text><text x="103" y="463">1800</text><text x="103" y="508">1600</text><text x="103" y="563">1400</text><text x="103" y="630">1200</text><text x="103" y="703">1000</text><text x="103" y="748">900</text><text x="103" y="798">800</text><text x="103" y="853">700</text><text x="103" y="918">600</text><text x="103" y="993">500</text><text x="103" y="1090">400</text><text x="103" y="1210">300</text><text x="103" y="1381">200</text>
<text x="234" y="223">4000</text><text x="234" y="281">3500</text><text x="234" y="340">3000</text><text x="234" y="423">2500</text><text x="234" y="512">2000</text><text x="234" y="559">1800</text><text x="234" y="609">1600</text><text x="234" y="675">1400</text><text x="234" y="729">1200</text><text x="234" y="803">1000</text><text x="234" y="846">900</text><text x="234" y="900">800</text><text x="234" y="955">700</text><text x="234" y="1020">600</text><text x="234" y="1095">500</text><text x="234" y="1188">400</text><text x="234" y="1308">300</text>
<text x="357" y="155">6000</text><text x="357" y="231">5000</text><text x="357" y="325">4000</text><text x="357" y="395">3400</text><text x="357" y="450">3000</text><text x="357" y="540">2400</text><text x="357" y="613">2000</text><text x="357" y="661">1800</text><text x="357" y="708">1600</text><text x="357" y="765">1400</text><text x="357" y="831">1200</text><text x="357" y="903">1000</text><text x="357" y="951">900</text><text x="357" y="998">800</text><text x="357" y="1056">700</text><text x="357" y="1118">600</text><text x="357" y="1195">500</text><text x="357" y="1290">400</text><text x="357" y="1380">320</text>
</g>
<g font-size="36" font-weight="bold" fill="#3b4791" text-anchor="middle">
<text x="132" y="1441">200°С</text><text x="250" y="1441">100°С</text><text x="372" y="1441">20°С</text><text x="472" y="1441">2,4</text><text x="575" y="1441">3</text><text x="710" y="1441">4</text><text x="815" y="1441">5</text><text x="903" y="1441">6</text><text x="972" y="1441">7</text><text x="1037" y="1441">8</text><text x="1092" y="1441">9</text><text x="1147" y="1441">10</text><text x="1232" y="1441">12</text><text x="1302" y="1441">14</text><text x="1367" y="1441">16</text><text x="1415" y="1441">18</text><text x="1472" y="1441">20</text>
</g>
<text x="185" y="55" font-size="50" font-weight="bold" fill="#3b4791">P<tspan font-size="30" dy="10">v</tspan><tspan dy="-10">, Па</tspan></text>
<text x="1190" y="1515" font-size="48" font-weight="bold" fill="#3b4791" textLength="330" lengthAdjust="spacingAndGlyphs">Q, 10³·м³/год</text>
</g>

<!-- LEGEND -->
<g font-size="17" fill="#111" stroke="#111" stroke-width="0.25">
<text x="600" y="874" textLength="177" lengthAdjust="spacingAndGlyphs">PV - повний тиск, Па;</text>
<text x="600" y="895.2" textLength="338" lengthAdjust="spacingAndGlyphs">Q - продуктивність повітрям, тис. м³/год;</text>
<text x="600" y="916.4" textLength="307" lengthAdjust="spacingAndGlyphs">N - споживана потужність двигуна, кВт;</text>
<text x="600" y="937.6" textLength="280" lengthAdjust="spacingAndGlyphs">U-окружна швидкість колеса, м/с;</text>
<text x="600" y="957.8" textLength="388" lengthAdjust="spacingAndGlyphs">n - частота обертання робочого колеса, об/хв;</text>
<text x="600" y="978.3" textLength="266" lengthAdjust="spacingAndGlyphs">η-коефіцієнт корисної дії (ККД).</text>
</g>

<!-- 3D RENDER -->
<g transform="translate(587,1000) scale(0.31,0.2558)" stroke-linejoin="round">
<!-- frame -->
<polygon points="880,1270 1460,790 1482,840 905,1320" fill="#c9c3d6" stroke="#333" stroke-width="3"/>
<polygon points="940,845 1390,605 1396,650 945,890" fill="#c9c3d6" stroke="#333" stroke-width="3"/>
<polygon points="1220,720 1380,640 1385,680 1225,760" fill="#c9c3d6" stroke="#333" stroke-width="3"/>
<polygon points="950,700 1040,680 1380,480 1395,560 1040,770 955,770" fill="#f4f4f4" stroke="#333" stroke-width="3"/>
<polygon points="1000,790 1085,765 1085,1060 1000,1085" fill="#c9c3d6" stroke="#333" stroke-width="3"/>
<line x1="1042" y1="780" x2="1042" y2="1075" stroke="#333" stroke-width="3"/>
<polygon points="1355,560 1395,548 1398,770 1358,780" fill="#c9c3d6" stroke="#333" stroke-width="3"/>
<path d="M1192,1000 L1192,900 Q1230,840 1268,890 L1268,980 Z" fill="#c9c3d6" stroke="#333" stroke-width="3"/>
<ellipse cx="1230" cy="910" rx="16" ry="22" fill="#fff" stroke="#333" stroke-width="3"/>
<circle cx="1090" cy="1110" r="5" fill="#333"/><circle cx="1375" cy="915" r="5" fill="#333"/>
<!-- motor -->
<polygon points="1000,310 1040,270 1080,250 1150,220 1300,120 1380,85 1430,120 1455,250 1440,380 1380,460 1320,500 1230,560 1150,580 1100,560 1030,480 1000,400" fill="url(#gMotor)" stroke="#111" stroke-width="3"/>
<g stroke="#17206a" stroke-width="6">
<line x1="1130" y1="300" x2="1380" y2="150"/><line x1="1140" y1="335" x2="1395" y2="190"/><line x1="1150" y1="370" x2="1405" y2="230"/><line x1="1160" y1="405" x2="1410" y2="270"/><line x1="1170" y1="440" x2="1410" y2="310"/><line x1="1180" y1="475" x2="1405" y2="350"/><line x1="1190" y1="510" x2="1395" y2="390"/><line x1="1220" y1="530" x2="1380" y2="430"/>
</g>
<ellipse cx="1395" cy="270" rx="58" ry="175" fill="#2e3c98" stroke="#111" stroke-width="3"/>
<polygon points="1070,215 1120,192 1150,205 1150,262 1095,290 1070,270" fill="#3444a6" stroke="#111" stroke-width="3"/>
<rect x="1195" y="535" width="45" height="40" fill="#222"/>
<rect x="1300" y="478" width="35" height="28" fill="#222"/>
<!-- yellow guard -->
<polygon points="880,345 1010,430 1010,690 885,615" fill="#c9c06a" stroke="#333" stroke-width="3"/>
<polygon points="880,345 970,300 1110,390 1010,430" fill="#f4e84a" stroke="#333" stroke-width="3"/>
<polygon points="1010,430 1110,390 1112,625 1010,690" fill="#d9cf55" stroke="#333" stroke-width="3"/>
<path d="M915,560 L915,470 Q945,420 980,470 L980,590 Z" fill="#b8b8b8" stroke="#333" stroke-width="3"/>
<polygon points="1010,640 1130,620 1130,660 1045,700 1010,690" fill="#e0d048" stroke="#333" stroke-width="3"/>
<!-- bearing -->
<polygon points="820,480 880,455 960,470 1000,470 1000,560 960,640 930,725 880,735 840,680 820,600" fill="#e6e6e6" stroke="#333" stroke-width="3"/>
<ellipse cx="865" cy="520" rx="42" ry="58" fill="#d2d2d2" stroke="#333" stroke-width="3"/>
<ellipse cx="935" cy="700" rx="28" ry="22" fill="#888" stroke="#333" stroke-width="3"/>
<!-- casing -->
<path d="M50,745 L80,705 C110,600 180,520 260,475 L690,145 L660,185 C760,400 830,520 880,560 C930,700 945,900 935,1050 C920,1220 850,1330 740,1390 C640,1440 520,1450 400,1430 L380,1425 Z" fill="url(#gBand)" stroke="#333" stroke-width="3"/>
<path d="M80,720 C110,600 180,520 260,475 L280,440 L330,420 L345,510 L490,295 C600,450 720,700 760,900 C790,1080 760,1250 680,1350 C620,1410 520,1440 420,1430 L90,745 Z" fill="#d3d0da" stroke="#333" stroke-width="3"/>
<polygon points="268,445 322,420 345,505" fill="#fff" stroke="#333" stroke-width="2"/>
<polygon points="50,745 80,735 410,1415 385,1430" fill="#dcdae2" stroke="#333" stroke-width="3"/>
<line x1="680" y1="655" x2="880" y2="562" stroke="#333" stroke-width="3"/>
<line x1="380" y1="1375" x2="760" y2="1125" stroke="#333" stroke-width="3"/>
<line x1="490" y1="295" x2="690" y2="145" stroke="#333" stroke-width="3"/>
<!-- inlet -->
<ellipse cx="378" cy="870" rx="185" ry="232" transform="rotate(-12 378 870)" fill="#c4c0cc" stroke="#333" stroke-width="4"/>
<ellipse cx="372" cy="875" rx="162" ry="206" transform="rotate(-12 372 875)" fill="none" stroke="#333" stroke-width="3"/>
<ellipse cx="362" cy="880" rx="145" ry="190" transform="rotate(-12 362 880)" fill="url(#gInlet)" stroke="#333" stroke-width="3"/>
<ellipse cx="395" cy="885" rx="100" ry="150" transform="rotate(-12 395 885)" fill="none" stroke="#5a2222" stroke-width="4"/>
<g stroke="#3a1414" stroke-width="6">
<line x1="385" y1="780" x2="470" y2="770"/><line x1="385" y1="830" x2="490" y2="815"/><line x1="390" y1="880" x2="495" y2="865"/><line x1="395" y1="930" x2="495" y2="915"/><line x1="405" y1="980" x2="490" y2="960"/><line x1="420" y1="1025" x2="480" y2="1005"/>
</g>
<!-- side flange -->
<ellipse cx="595" cy="765" rx="82" ry="132" transform="rotate(-8 595 765)" fill="#cfcbd8" stroke="#333" stroke-width="4"/>
<ellipse cx="585" cy="765" rx="35" ry="55" fill="#e6e6e6" stroke="#222" stroke-width="5"/>
<g fill="#444"><circle cx="545" cy="655" r="7"/><circle cx="600" cy="640" r="7"/><circle cx="645" cy="680" r="7"/><circle cx="660" cy="760" r="7"/><circle cx="645" cy="850" r="7"/><circle cx="600" cy="890" r="7"/><circle cx="540" cy="860" r="7"/><circle cx="525" cy="760" r="7"/></g>
<text transform="translate(230,560) rotate(30)" font-size="75" font-weight="bold" fill="#fff" textLength="330" lengthAdjust="spacingAndGlyphs">ukrvent.ua</text>
</g>

<!-- FOOTER -->
<g font-size="16.5" fill="#1a1a1a">
<text x="66" y="1467" textLength="176" lengthAdjust="spacingAndGlyphs">УКРВЕНТСИСТЕМИ</text>
<text x="66" y="1487" textLength="130" lengthAdjust="spacingAndGlyphs">сайт:ukrvent.ua</text>
<text x="66" y="1507" textLength="217" lengthAdjust="spacingAndGlyphs">E-mail: zavod@ukrvent.ua</text>
<text x="923" y="1467" textLength="132" lengthAdjust="spacingAndGlyphs">Відділ продажу</text>
<text x="790" y="1487" textLength="265" lengthAdjust="spacingAndGlyphs">+38 (097) 699-14-81 - Київстар;</text>
<text x="741" y="1507" textLength="314" lengthAdjust="spacingAndGlyphs">+38 (099) 199-69-06 - Vodofon (Viber)</text>
</g>
</svg>
</body></html>
